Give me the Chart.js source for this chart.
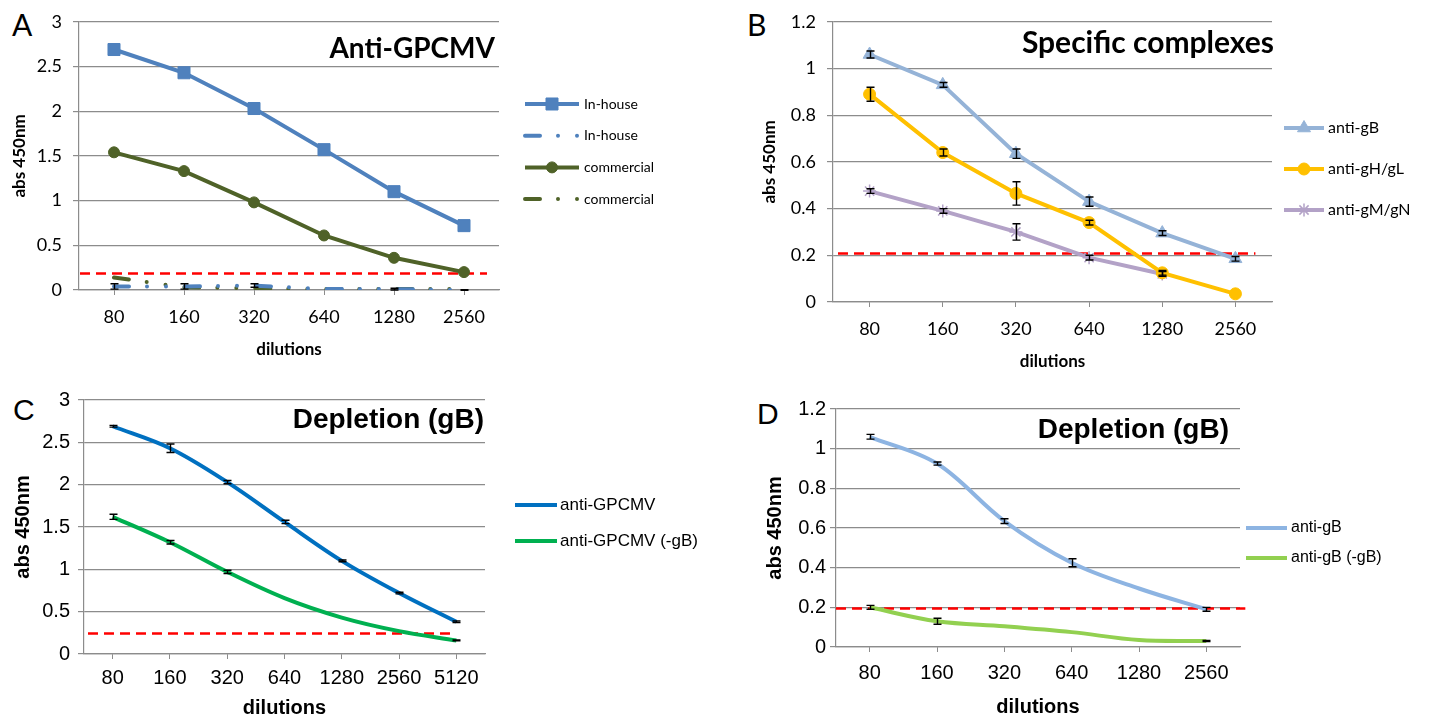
<!DOCTYPE html>
<html lang="en">
<head>
<meta charset="UTF-8">
<title>ELISA dilution curves</title>
<script src="https://cdn.jsdelivr.net/npm/chart.js"></script>
<style>
  body { margin: 0; background: #fff; width: 1429px; height: 719px; overflow: hidden; position: relative; }
  canvas { position: absolute; left: 0; top: 0; }
  .letter { position: absolute; line-height: 1; color: #000; }
  .cal { font-family: Lato, 'Open Sans', sans-serif; font-size: 30px; }
  .ari { font-family: 'Liberation Sans', Arial, sans-serif; font-size: 30px; }
</style>
</head>
<body>
<div class="letter cal" style="left:12px;top:9px">A</div>
<div class="letter cal" style="left:747px;top:9px">B</div>
<div class="letter ari" style="left:13px;top:395px">C</div>
<div class="letter ari" style="left:757px;top:399px">D</div>
<canvas id="chartA" width="1429" height="719"></canvas>
<canvas id="chartB" width="1429" height="719"></canvas>
<canvas id="chartC" width="1429" height="719"></canvas>
<canvas id="chartD" width="1429" height="719"></canvas>
<script>
// ---- data ----
const dil6 = ['80', '160', '320', '640', '1280', '2560'];
const dil7 = ['80', '160', '320', '640', '1280', '2560', '5120'];

// A: Anti-GPCMV
const inHouse = [2.69, 2.43, 2.03, 1.57, 1.10, 0.72];
const inHouseNeg = [0.04, 0.04, 0.05, 0.01, 0.01, 0.00];
const inHouseNegErr = [0.03, 0.03, 0.02, 0, 0.01, 0.003];
const commercial = [1.54, 1.33, 0.98, 0.61, 0.36, 0.20];
const commercialNeg = [0.14, 0.03, 0.02, 0.01, 0.01, 0.01];
const cutoffA = 0.19;

// B: specific complexes
const antiGB = [1.06, 0.93, 0.635, 0.43, 0.295, 0.185];
const antiGBErr = [0.015, 0.01, 0.02, 0.02, 0.01, 0.01];
const antiGHGL = [0.89, 0.64, 0.465, 0.34, 0.125, 0.035];
const antiGHGLErr = [0.03, 0.015, 0.05, 0.01, 0.01, 0];
const antiGMGN = [0.475, 0.39, 0.30, 0.19, 0.12, null];
const antiGMGNErr = [0.01, 0.01, 0.035, 0.01, 0.01, 0];
const cutoffB = 0.208;

// C: depletion, anti-GPCMV
const gpcmv = [2.69, 2.43, 2.03, 1.56, 1.10, 0.72, 0.38];
const gpcmvErr = [0.01, 0.05, 0.02, 0.02, 0.01, 0.01, 0.01];
const gpcmvMinusGB = [1.62, 1.32, 0.97, 0.66, 0.43, 0.27, 0.16];
const gpcmvMinusGBErr = [0.03, 0.02, 0.02, 0, 0, 0, 0.005];
const cutoffC = 0.25;

// D: depletion, anti-gB
const gbD = [1.06, 0.925, 0.635, 0.425, 0.295, 0.19];
const gbDErr = [0.012, 0.008, 0.012, 0.02, 0, 0.01];
const gbMinusGB = [0.20, 0.13, 0.105, 0.075, 0.035, 0.03];
const gbMinusGBErr = [0.01, 0.015, 0, 0, 0, 0.003];
const cutoffD = 0.197;

// ---- drawing helpers ----
const GRID = '#8c8c8c';

const panelPlugin = {
  id: 'panel',
  beforeDatasetsDraw(chart, args, o) {
    const {ctx, chartArea, scales: {x, y}} = chart;
    const yy = Math.round(y.getPixelForValue(o.cutoff)) + 0.5;
    ctx.save();
    ctx.strokeStyle = '#ff0000';
    ctx.lineWidth = 2.5;
    ctx.setLineDash([10, 6]);
    ctx.beginPath();
    ctx.moveTo(chartArea.left + o.cutFrom, yy);
    ctx.lineTo(x.getPixelForValue(x.max) + o.cutTo, yy);
    ctx.stroke();
    ctx.restore();
  },
  afterDatasetsDraw(chart) {
    const {ctx, scales: {y}} = chart;
    ctx.save();
    ctx.strokeStyle = '#000';
    ctx.lineWidth = 1.4;
    chart.data.datasets.forEach((ds, di) => {
      if (!ds.errors) return;
      const meta = chart.getDatasetMeta(di);
      ds.errors.forEach((e, i) => {
        const v = ds.data[i];
        if (!e || v == null) return;
        const px = Math.round(meta.data[i].x) + 0.5;
        const t = y.getPixelForValue(v + e), b = y.getPixelForValue(v - e);
        ctx.beginPath();
        ctx.moveTo(px, t); ctx.lineTo(px, b);
        ctx.moveTo(px - 4, t); ctx.lineTo(px + 4, t);
        ctx.moveTo(px - 4, b); ctx.lineTo(px + 4, b);
        ctx.stroke();
      });
    });
    ctx.restore();
  },
  afterDraw(chart, args, o) {
    const {ctx, chartArea} = chart;
    ctx.save();
    // title inside the plot
    ctx.fillStyle = '#000';
    ctx.font = o.titleFont;
    ctx.textAlign = 'right';
    ctx.textBaseline = 'middle';
    ctx.fillText(o.title, chartArea.right + o.titleDx, chartArea.top + o.titleDy);
    // legend on the right
    const L = o.legend;
    ctx.font = L.font;
    ctx.textAlign = 'left';
    chart.data.datasets.forEach((ds, i) => {
      const ly = L.y + i * L.dy;
      ctx.save();
      ctx.strokeStyle = ds.borderColor;
      ctx.lineWidth = ds.borderWidth;
      ctx.lineCap = ds.borderCapStyle || 'butt';
      ctx.setLineDash(ds.borderDash || []);
      ctx.beginPath();
      ctx.moveTo(L.x, ly);
      ctx.lineTo(L.x + L.len, ly);
      ctx.stroke();
      ctx.restore();
      if (ds.pointRadius > 0 && Chart.helpers && Chart.helpers.drawPoint) {
        ctx.save();
        ctx.fillStyle = ds.pointBackgroundColor || ds.borderColor;
        ctx.strokeStyle = ds.pointBorderColor || ds.borderColor;
        ctx.lineWidth = ds.pointBorderWidth || 1;
        Chart.helpers.drawPoint(ctx, {pointStyle: ds.pointStyle, radius: ds.pointRadius, rotation: 0, borderWidth: ds.pointBorderWidth || 1}, L.x + L.len / 2, ly);
        ctx.restore();
      }
      ctx.fillStyle = '#000';
      ctx.fillText(ds.label, L.x + L.len + L.gap, ly);
    });
    ctx.restore();
  }
};

function makePanel(id, g) {
  const tickFont = {family: g.family, size: g.tickSize};
  const titleFont = {family: g.family, size: g.axisTitleSize, weight: 'bold', lineHeight: 1};
  return new Chart(document.getElementById(id), {
    type: 'line',
    data: {labels: g.labels, datasets: g.datasets},
    options: {
      responsive: false,
      animation: false,
      events: [],
      layout: {padding: {left: g.padL, top: g.top, right: 1429 - g.right, bottom: g.padB}},
      plugins: {
        legend: {display: false},
        tooltip: {enabled: false},
        panel: g.panel
      },
      scales: {
        x: {
          offset: true,
          grid: {drawOnChartArea: false, color: GRID, tickLength: 5},
          border: {color: GRID, width: 1.2},
          ticks: {font: tickFont, color: '#000', padding: g.xPad, maxRotation: 0, autoSkip: false},
          title: {display: true, text: 'dilutions', font: titleFont, color: '#000', padding: 0},
          afterFit: s => { s.height = g.xH; }
        },
        y: {
          min: 0, max: g.ymax,
          grid: {color: GRID, lineWidth: 1.2, tickLength: 6},
          border: {color: GRID, width: 1.2},
          ticks: {stepSize: g.step, font: tickFont, color: '#000', padding: g.yPad,
                  callback: v => String(Math.round(v * 100) / 100)},
          title: {display: true, text: 'abs 450nm', font: titleFont, color: '#000', padding: 0},
          afterFit: s => { s.width = g.yW; }
        }
      }
    },
    plugins: [panelPlugin]
  });
}

// A
makePanel('chartA', {
  labels: dil6, family: 'Lato', tickSize: 18, axisTitleSize: 17,
  padL: 11.5, yW: 67.5, top: 20, right: 499, padB: 360.5, xH: 68.5,
  xPad: 11, yPad: 11, ymax: 3, step: 0.5,
  datasets: [
    {label: 'In-house', data: inHouse, borderColor: '#4f81bd', backgroundColor: '#4f81bd', borderWidth: 4,
     pointStyle: 'rect', pointRadius: 8.5, pointBorderWidth: 1},
    {label: 'In-house', data: inHouseNeg, errors: inHouseNegErr, borderColor: '#4f81bd', borderWidth: 4,
     borderDash: [15, 18, 0, 19, 0, 19], borderCapStyle: 'round', pointRadius: 0},
    {label: 'commercial', data: commercial, borderColor: '#4f6228', backgroundColor: '#4f6228', borderWidth: 4,
     pointStyle: 'circle', pointRadius: 5.5, pointBorderWidth: 1},
    {label: 'commercial', data: commercialNeg, borderColor: '#4f6228', borderWidth: 4,
     borderDash: [15, 18, 0, 19, 0, 19], borderCapStyle: 'round', pointRadius: 0}
  ],
  panel: {cutoff: cutoffA, cutFrom: 1, cutTo: 23,
          title: 'Anti-GPCMV', titleFont: 'bold 28px Lato', titleDx: -4, titleDy: 27,
          legend: {x: 525, y: 104, dy: 31.7, len: 54, gap: 5, font: '14px Lato'}}
});

// B
makePanel('chartB', {
  labels: dil6, family: 'Lato', tickSize: 18, axisTitleSize: 17,
  padL: 761.5, yW: 71.5, top: 19, right: 1272, padB: 348.5, xH: 68.5,
  xPad: 11, yPad: 11, ymax: 1.2, step: 0.2,
  datasets: [
    {label: 'anti-gB', data: antiGB, errors: antiGBErr, borderColor: '#95b3d7', backgroundColor: '#95b3d7', borderWidth: 4,
     pointStyle: 'triangle', pointRadius: 7.5, pointBorderWidth: 1},
    {label: 'anti-gH/gL', data: antiGHGL, errors: antiGHGLErr, borderColor: '#ffc000', backgroundColor: '#ffc000', borderWidth: 4,
     pointStyle: 'circle', pointRadius: 6, pointBorderWidth: 1},
    {label: 'anti-gM/gN', data: antiGMGN, errors: antiGMGNErr, borderColor: '#b3a2c7', backgroundColor: '#b3a2c7', borderWidth: 4,
     pointStyle: 'star', pointRadius: 6.5, pointBorderWidth: 1.5}
  ],
  panel: {cutoff: cutoffB, cutFrom: 5, cutTo: 20,
          title: 'Specific complexes', titleFont: 'bold 30px Lato', titleDx: 2, titleDy: 22,
          legend: {x: 1284, y: 128, dy: 41, len: 40, gap: 4, font: '16px Lato'}}
});

// C
makePanel('chartC', {
  labels: dil7, family: "'Liberation Sans', Arial, sans-serif", tickSize: 20, axisTitleSize: 20,
  padL: 13, yW: 71, top: 400, right: 485, padB: 1, xH: 64,
  xPad: 7, yPad: 8, ymax: 3, step: 0.5,
  datasets: [
    {label: 'anti-GPCMV', data: gpcmv, errors: gpcmvErr, borderColor: '#0070c0', borderWidth: 4,
     tension: 0.35, pointRadius: 0},
    {label: 'anti-GPCMV (-gB)', data: gpcmvMinusGB, errors: gpcmvMinusGBErr, borderColor: '#00b050', borderWidth: 4,
     tension: 0.35, pointRadius: 0}
  ],
  panel: {cutoff: cutoffC, cutFrom: 4, cutTo: -2,
          title: 'Depletion (gB)', titleFont: "bold 28px 'Liberation Sans', Arial, sans-serif", titleDx: -1, titleDy: 20,
          legend: {x: 515, y: 505, dy: 36, len: 42, gap: 3, font: "17px 'Liberation Sans', Arial, sans-serif"}}
});

// D
makePanel('chartD', {
  labels: dil6, family: "'Liberation Sans', Arial, sans-serif", tickSize: 20, axisTitleSize: 20,
  padL: 765, yW: 71, top: 409, right: 1240, padB: 2, xH: 70,
  xPad: 9, yPad: 4, ymax: 1.2, step: 0.2,
  datasets: [
    {label: 'anti-gB', data: gbD, errors: gbDErr, borderColor: '#8db4e2', borderWidth: 4,
     tension: 0.35, pointRadius: 0},
    {label: 'anti-gB (-gB)', data: gbMinusGB, errors: gbMinusGBErr, borderColor: '#92d050', borderWidth: 4,
     tension: 0.35, pointRadius: 0}
  ],
  panel: {cutoff: cutoffD, cutFrom: 0, cutTo: 39,
          title: 'Depletion (gB)', titleFont: "bold 28px 'Liberation Sans', Arial, sans-serif", titleDx: -11, titleDy: 21,
          legend: {x: 1246, y: 528, dy: 30, len: 41, gap: 4, font: "16px 'Liberation Sans', Arial, sans-serif"}}
});
</script>
</body>
</html>
